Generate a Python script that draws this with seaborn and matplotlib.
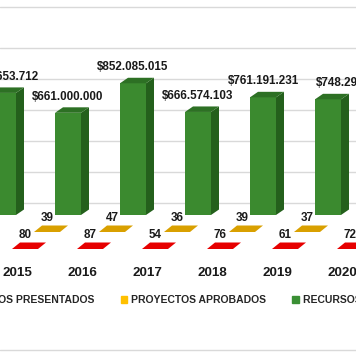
import numpy as np
import pandas as pd
import matplotlib.pyplot as plt
import seaborn as sns
from matplotlib.patches import Polygon, Patch
from matplotlib.lines import Line2D

# data
years = ["2015", "2016", "2017", "2018", "2019", "2020"]
presentados = [80, 87, 54, 76, 61, 72]
aprobados = [39, 47, 36, 39, 37, 38]
recursos = [789653712, 661000000, 852085015, 666574103, 761191231, 748295410]
legend_labels = ["PROYECTOS PRESENTADOS", "PROYECTOS APROBADOS", "RECURSOS ASIGNADOS"]

sns.set_style("white")
plt.rcParams['font.family'] = ['Liberation Sans', 'DejaVu Sans']

# colors
red_top = "#e60000"
yellow_top = "#d9a000"
green_front = "#3b8a2f"
green_side = "#24601c"
green_top = "#2d7024"
legend_colors = ["#ff0000", "#ffc000", "#3a8f34"]

# pixel scale of the cropped 3d chart
W, H = 356, 364
PX = 1 / 65.0          # category units per pixel
PY = 1 / 0.1546        # millions per pixel
FLOOR_PX = 215         # front floor of green row
DX, DY = 8 * PX, 5.5 * PY
DY_FLAT = 6.5 * PY
BW = 26 * PX
label_shift = [0, 0, 0, 0, 0, 23]   # last money label was moved right in the original

fig = plt.figure(figsize=(W / 100, H / 100), dpi=100)
ax = fig.add_axes([0, 0, 1, 1])

idx = np.arange(len(years))
rec_m = np.array(recursos) / 1e6

# gridlines on back wall
for v in range(0, 1200, 200):
    ax.axhline(v + 12 * PY, color="#d9d9d9", lw=1, zorder=0)

# green bars: front faces with seaborn
green_x = idx - 14 * PX
df = pd.DataFrame({"x": green_x, "y": rec_m})
sns.barplot(data=df, x="x", y="y", native_scale=True, width=0.4,
            color=green_front, saturation=1, linewidth=0, ax=ax, zorder=3)

# side and top faces
for c, h, s in zip(green_x, rec_m, label_shift):
    l, r = c - BW / 2, c + BW / 2
    ax.add_patch(Polygon([(r, 0), (r + DX, DY), (r + DX, h + DY), (r, h)],
                         closed=True, color=green_side, lw=0, zorder=3))
    ax.add_patch(Polygon([(l, h), (r, h), (r + DX, h + DY), (l + DX, h + DY)],
                         closed=True, color=green_top, lw=0, zorder=3))
    ax.annotate(f"${h * 1e6:,.0f}".replace(",", "."), (c, h), xytext=(s, 13),
                textcoords="offset pixels", ha="center", va="baseline",
                fontsize=8.4, fontweight="bold", color="#1a1a1a", zorder=5)

# flat bars (counts are ~0 on the money scale) in front rows
rows = [(presentados, red_top, 8 * PX, -34 * PY),
        (aprobados, yellow_top, 30 * PX, -17 * PY)]
for vals, col, off, floor in rows:
    for i, v in zip(idx, vals):
        c = i + off
        l, r = c - BW / 2, c + BW / 2
        top = floor + v / 1e6
        ax.add_patch(Polygon([(l, top), (r, top), (r + DX, top + DY_FLAT), (l + DX, top + DY_FLAT)],
                             closed=True, color=col, lw=0, zorder=2))
        ax.annotate(str(v), (c, floor), xytext=(0, 14), textcoords="offset pixels",
                    ha="center", va="center", fontsize=8.4, fontweight="bold",
                    color="#1a1a1a", zorder=5)

# year labels
for i, y in zip(idx, years):
    ax.text(i, (FLOOR_PX - 273) * PY, y, ha="center", va="center",
            fontsize=9.6, fontweight="bold", color="#1a1a1a")

ax.set_xlim(-17 * PX, (W - 17) * PX)
ax.set_ylim(-(H - FLOOR_PX) * PY, FLOOR_PX * PY)
ax.axis("off")

# chart border lines
fig.add_artist(Line2D([0, 1], [1 - 7 / H, 1 - 7 / H], color="#d9d9d9", lw=1))
fig.add_artist(Line2D([0, 1], [1 - 350 / H, 1 - 350 / H], color="#d9d9d9", lw=1))

handles = [Patch(color=c) for c in legend_colors]
fig.legend(handles, legend_labels, ncol=3, loc="center left",
           bbox_to_anchor=(-62 / W, 1 - 300 / H), frameon=False,
           prop={"size": 7.5, "weight": "bold"}, handlelength=0.6, handleheight=0.6,
           handletextpad=0.4, columnspacing=2.5, borderpad=0, borderaxespad=0)

fig.savefig("out.png", dpi=100, facecolor="white")
